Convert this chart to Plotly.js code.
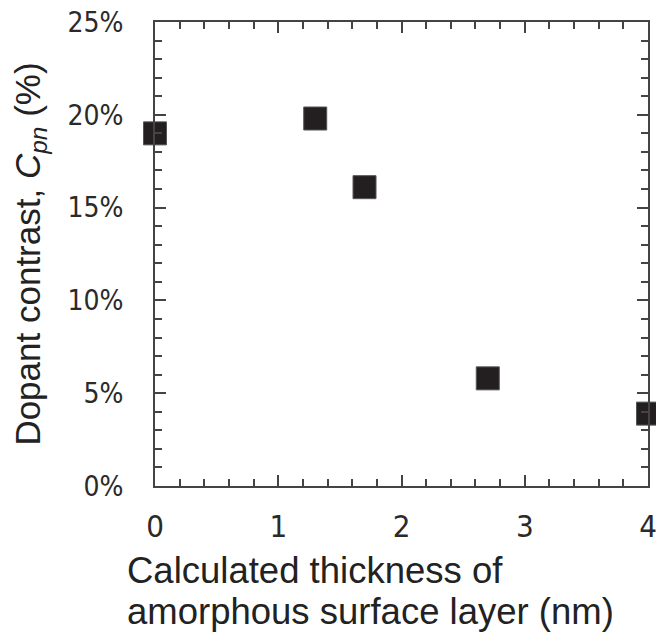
<!DOCTYPE html>
<html><head><meta charset="utf-8">
<script src="https://cdn.plot.ly/plotly-3.0.1.min.js"></script>
<style>html,body{margin:0;padding:0;background:#fff}#chart{width:656px;height:637px}</style>
</head><body><div id="chart"></div>
<script>
var thickness = [0, 1.3, 1.7, 2.7, 4.0];
var contrast = [19.0, 19.8, 16.1, 5.8, 3.9];
var xTickVals = [0, 1, 2, 3, 4];
var yTickVals = [0, 5, 10, 15, 20, 25];
var yTickText = ['0%', '5%', '10%', '15%', '20%', '25%'];
var xTitleLines = ['Calculated thickness of', 'amorphous surface layer (nm)'];
var yTitle = 'Dopant contrast, <i>C</i><sub><i>pn</i></sub> (%)';

var condensed = '"DejaVu Sans Condensed", "Liberation Sans", sans-serif';
var plain = '"Liberation Sans", Arial, sans-serif';

var trace = {
  x: thickness, y: contrast, type: 'scatter', mode: 'markers',
  marker: {symbol: 'square', size: 23, color: '#231f20', line: {color: '#555', width: 1}},
  cliponaxis: false, hoverinfo: 'x+y'
};

var layout = {
  width: 656, height: 637,
  margin: {l: 155, r: 8, t: 22, b: 151},
  paper_bgcolor: '#fff', plot_bgcolor: '#fff',
  showlegend: false,
  xaxis: {
    range: [0, 4], tickvals: xTickVals, ticks: 'inside', ticklen: 11, tickwidth: 2, tickcolor: '#444',
    showline: true, linecolor: '#444', linewidth: 2, mirror: 'allticks',
    showgrid: false, zeroline: false, ticklabelstandoff: 12, ticklabeloverflow: 'allow',
    tickfont: {family: condensed, size: 31, color: '#2a2a2a'},
    minor: {dtick: 0.2, ticks: 'inside', ticklen: 7, tickwidth: 2, tickcolor: '#444', showgrid: false}
  },
  yaxis: {
    range: [0, 25], tickvals: yTickVals, ticktext: yTickText, ticks: 'inside', ticklen: 11, tickwidth: 2, tickcolor: '#444',
    showline: true, linecolor: '#444', linewidth: 2, mirror: 'allticks',
    showgrid: false, zeroline: false, ticklabelstandoff: 24, ticklabeloverflow: 'allow',
    tickfont: {family: condensed, size: 28, color: '#2a2a2a'},
    minor: {dtick: 1, ticks: 'inside', ticklen: 7, tickwidth: 2, tickcolor: '#444', showgrid: false},
    title: {text: yTitle, font: {family: plain, size: 35, color: '#222'}, standoff: 16}
  },
  annotations: [
    {xref: 'paper', yref: 'paper', x: -0.0609, y: -0.182, xanchor: 'left', yanchor: 'middle',
     text: xTitleLines[0], showarrow: false, font: {family: plain, size: 36.5, color: '#222'}},
    {xref: 'paper', yref: 'paper', x: -0.0609, y: -0.2705, xanchor: 'left', yanchor: 'middle',
     text: xTitleLines[1], showarrow: false, font: {family: plain, size: 36.5, color: '#222'}}
  ]
};

Plotly.newPlot('chart', [trace], layout, {displayModeBar: false, staticPlot: true});
</script></body></html>
